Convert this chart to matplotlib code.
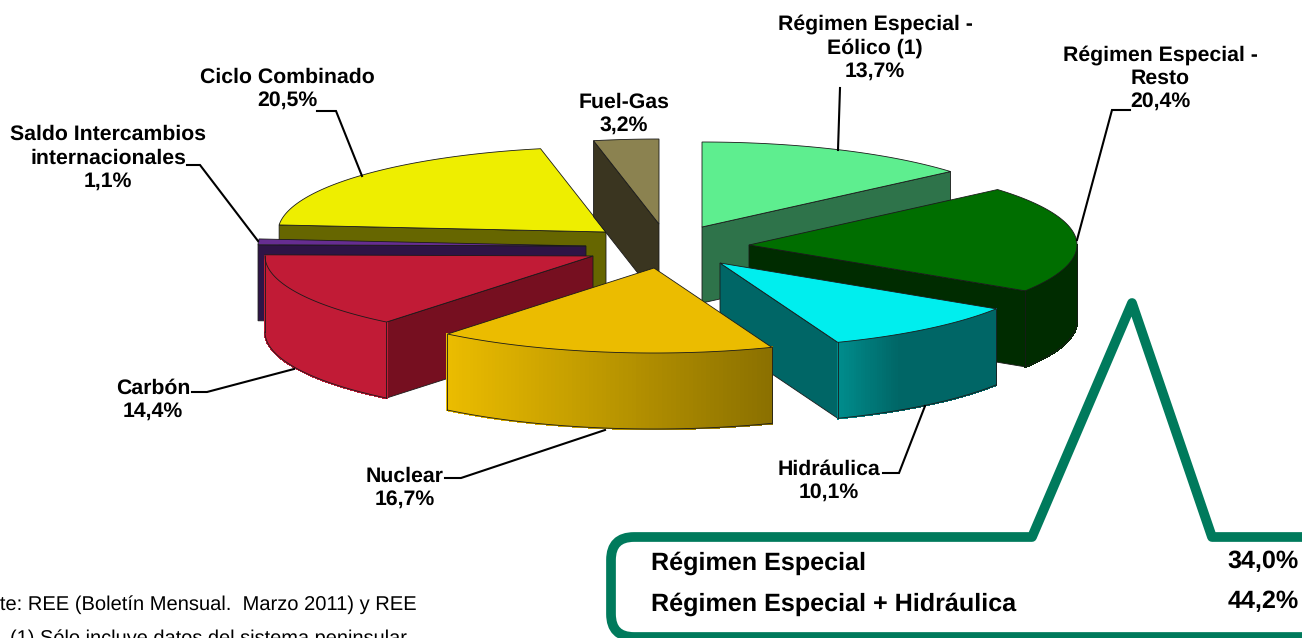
import numpy as np
import matplotlib
matplotlib.use("Agg")
import matplotlib.pyplot as plt
from matplotlib.path import Path
from matplotlib.patches import PathPatch

plt.rcParams["font.family"] = ["Liberation Sans", "DejaVu Sans"]
plt.rcParams["text.hinting"] = "none"

# data, clockwise from the top of the pie
labels = ["Régimen Especial -\nEólico (1)", "Régimen Especial -\nResto", "Hidráulica", "Nuclear",
          "Carbón", "Saldo Intercambios\ninternacionales", "Ciclo Combinado", "Fuel-Gas"]
values = [13.7, 20.4, 10.1, 16.7, 14.4, 1.1, 20.5, 3.2]
box_labels = ["Régimen Especial", "Régimen Especial + Hidráulica"]
box_values = ["34,0%", "44,2%"]
source_lines = ["Fuente: REE (Boletín Mensual.  Marzo 2011) y REE", "(1) Sólo incluye datos del sistema peninsular"]

# look of each slice
top_colors = ["#5EEE8F", "#006E00", "#00EEEE", "#EBBC00", "#C11B36", "#662D91", "#EEEE00", "#8B8250"]
cut_colors = ["#2E734A", "#002C00", "#006666", "#8A7000", "#760F20", "#2E1446", "#666600", "#3A3520"]
rim_start = ["#2E734A", "#002C00", "#008C8C", "#EBBC00", "#C11B36", "#2E1446", "#666600", "#3A3520"]
rim_end = ["#2E734A", "#002C00", "#006666", "#8A7000", "#C11B36", "#2E1446", "#666600", "#3A3520"]
apex_x = [702, 749, 720, 654, 593, 586, 606, 659]
apex_y = [227, 245, 263, 268, 256, 246, 232, 224]
draw_order = [6, 5, 4, 7, 0, 1, 2, 3]
rx = 328
ry = 85
depth = 76

label_x = [875, 1160, 829, 405, 153, 108, 287, 624]
label_y = [48, 78, 481, 488, 400, 158, 89, 114]
leaders = [[(840, 88), (838, 150)],
           [(1130, 110), (1112, 110), (1077, 240)],
           [(883, 473), (899, 473), (925, 406)],
           [(445, 478), (461, 478), (605, 430)],
           [(192, 392), (207, 392), (294, 369)],
           [(187, 165), (200, 165), (258, 241)],
           [(317, 111), (336, 111), (362, 176)],
           []]

fig = plt.figure(figsize=(13.02, 6.38), dpi=100)
ax = fig.add_axes([0, 0, 1, 1])
ax.set_xlim(0, 1302)
ax.set_ylim(638, 0)
ax.axis("off")

EDGE = "#1a1a1a"


def rim(i, a, b, n=80):
    t = np.linspace(a, b, n)
    return apex_x[i] + rx * np.sin(t), apex_y[i] - ry * np.cos(t)


def cut_face(i, t, color):
    x = apex_x[i] + rx * np.sin(t)
    y = apex_y[i] - ry * np.cos(t)
    ax.fill([apex_x[i], x, x, apex_x[i]], [apex_y[i], y, y + depth, apex_y[i] + depth],
            facecolor=color, edgecolor=EDGE, lw=0.6)


def rim_wall(i, a, b):
    # only the front of the rim can be seen
    a2 = max(a, np.pi / 2)
    b2 = min(b, 3 * np.pi / 2)
    if a2 >= b2:
        return
    x, y = rim(i, a2, b2)
    c0 = np.array(matplotlib.colors.to_rgb(rim_start[i]))
    c1 = np.array(matplotlib.colors.to_rgb(rim_end[i]))
    # nuclear runs dark to the right, hidraulica fades quickly from its left side
    xlo, xhi = x.min(), x.max()
    if i == 2:
        xhi = xlo + 60
    for k in range(len(x) - 1):
        f = np.clip(((x[k] + x[k + 1]) / 2 - xlo) / (xhi - xlo), 0, 1)
        col = c0 + (c1 - c0) * f
        ax.fill([x[k], x[k + 1], x[k + 1], x[k]], [y[k], y[k + 1], y[k + 1] + depth, y[k] + depth],
                facecolor=col, edgecolor=col, lw=1.0, antialiased=False)
    ax.plot(x, y + depth, color=EDGE, lw=0.6)
    ax.plot([x[0], x[0]], [y[0], y[0] + depth], color=EDGE, lw=0.6)
    ax.plot([x[-1], x[-1]], [y[-1], y[-1] + depth], color=EDGE, lw=0.6)


sweep = np.array(values) / sum(values) * 2 * np.pi
starts = np.r_[0, np.cumsum(sweep)[:-1]]

for i in draw_order:
    a = starts[i]
    b = a + sweep[i]
    if np.sin(a) < 0:
        cut_face(i, a, cut_colors[i])
    if np.sin(b) > 0:
        cut_face(i, b, cut_colors[i])
    rim_wall(i, a, b)
    x, y = rim(i, a, b)
    ax.fill(np.r_[apex_x[i], x], np.r_[apex_y[i], y], facecolor=top_colors[i], edgecolor=EDGE, lw=0.6)

for i, name in enumerate(labels):
    if leaders[i]:
        ax.plot(*zip(*leaders[i]), color="black", lw=1.5, solid_joinstyle="miter")
    txt = name + "\n" + f"{values[i]:.1f}".replace(".", ",") + "%"
    ax.text(label_x[i], label_y[i], txt, ha="center", va="center", fontsize=15.3, fontweight="bold",
            linespacing=1.25, color="black")

# callout box, runs off the right and bottom of the picture
GREEN = "#007A5C"
box = Path([(1310, 637), (634, 637), (611, 637), (611, 614), (611, 560), (611, 537), (634, 537),
            (1032, 537), (1132, 303), (1212, 537), (1310, 537)],
           [Path.MOVETO, Path.LINETO, Path.CURVE3, Path.CURVE3, Path.LINETO, Path.CURVE3, Path.CURVE3,
            Path.LINETO, Path.LINETO, Path.LINETO, Path.LINETO])
ax.add_patch(PathPatch(box, facecolor="none", edgecolor=GREEN, lw=7.0, joinstyle="round", capstyle="butt"))

for k, y in enumerate([563, 604]):
    ax.text(651, y, box_labels[k], ha="left", va="center", fontsize=18.1, fontweight="bold")
for k, y in enumerate([562, 602]):
    ax.text(1299, y, box_values[k], ha="right", va="center", fontsize=18.1, fontweight="bold")

ax.text(417, 605, source_lines[0], ha="right", va="center", fontsize=14.5)
ax.text(407, 639, source_lines[1], ha="right", va="center", fontsize=14.4)

fig.savefig("out.png", dpi=100)
